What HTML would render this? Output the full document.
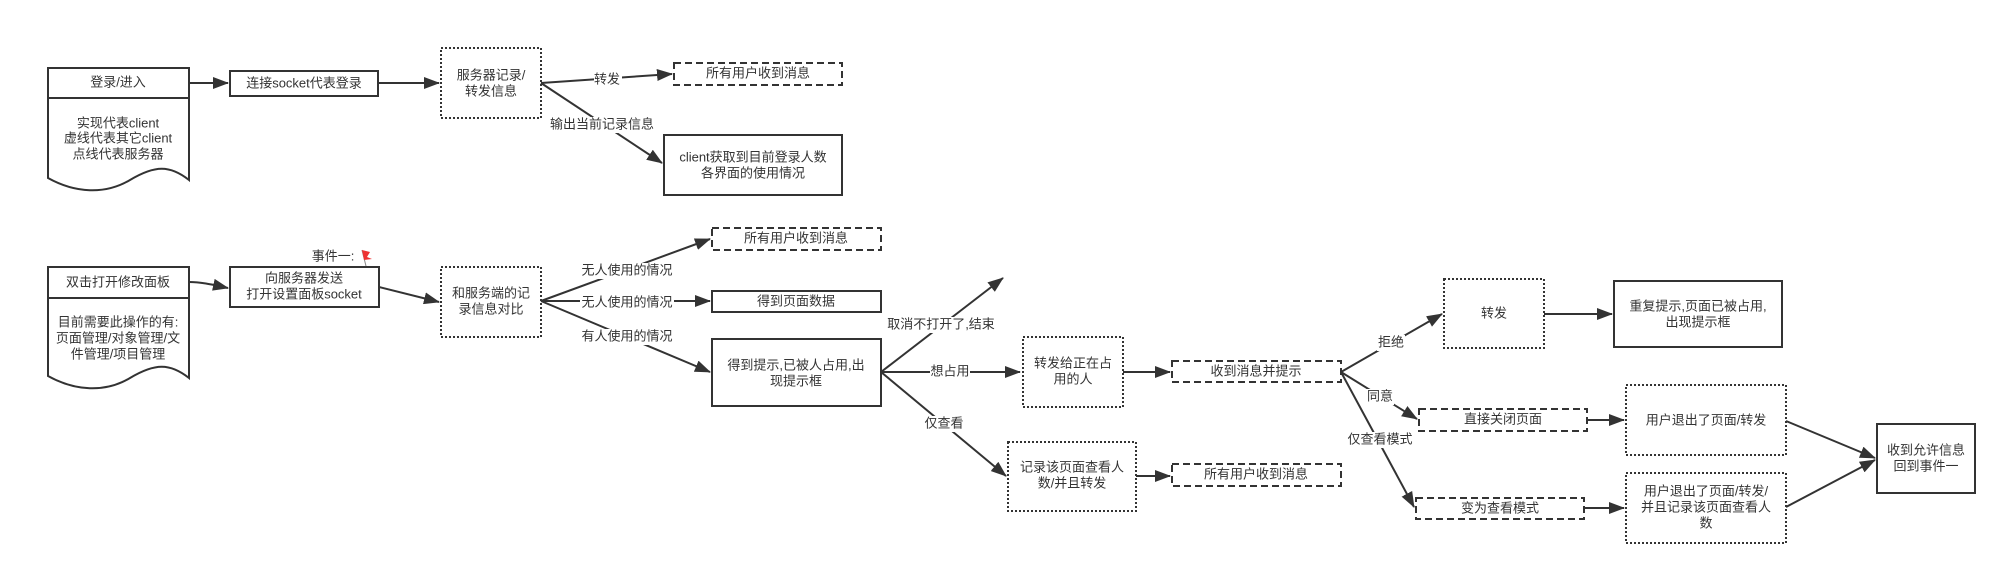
<!DOCTYPE html>
<html><head><meta charset="utf-8"><style>
html,body{margin:0;padding:0;background:#fff;}
svg{display:block;}
text{font-family:"Liberation Sans","Noto Sans CJK SC",sans-serif;font-size:13px;fill:#333;text-anchor:middle;dominant-baseline:middle;}
.s{fill:#fff;stroke:#333;stroke-width:2;}
.d{fill:#fff;stroke:#333;stroke-width:2;stroke-dasharray:7,4;}
.o{fill:#fff;stroke:#333;stroke-width:2;stroke-dasharray:2,2;}
.l{stroke:#333;stroke-width:2;fill:none;}
.lb{fill:#fff;}
</style></head><body>
<svg width="2009" height="575" viewBox="0 0 2009 575" xmlns="http://www.w3.org/2000/svg">
<defs><marker id="a" markerWidth="10" markerHeight="10" refX="9" refY="5" orient="auto" markerUnits="userSpaceOnUse"><path d="M0,0 L10,5 L0,10 Z" fill="#333"/></marker>
<marker id="b" markerWidth="16" markerHeight="12" refX="15" refY="6" orient="auto" markerUnits="userSpaceOnUse"><path d="M0,0 L16,6 L0,12 Z" fill="#333"/></marker></defs>

<!-- doc 1 -->
<path class="s" d="M48,68 H189 V180 C170,165 155,165 130,180 C105,195 75,193 48,178 Z"/>
<line class="l" x1="48" y1="98" x2="189" y2="98"/>
<text x="118" y="83">登录/进入</text>
<text x="118" y="124">实现代表client</text>
<text x="118" y="139">虚线代表其它client</text>
<text x="118" y="155">点线代表服务器</text>

<rect class="s" x="230" y="71" width="148" height="25"/>
<text x="304" y="84">连接socket代表登录</text>
<rect class="o" x="441" y="48" width="100" height="70"/>
<text x="491" y="76">服务器记录/</text><text x="491" y="92">转发信息</text>
<rect class="d" x="674" y="63" width="168" height="22"/>
<text x="758" y="74">所有用户收到消息</text>
<rect class="s" x="664" y="135" width="178" height="60"/>
<text x="753" y="158">client获取到目前登录人数</text><text x="753" y="174">各界面的使用情况</text>

<line class="l" x1="189" y1="83" x2="228" y2="83" marker-end="url(#b)"/>
<line class="l" x1="378" y1="83" x2="439" y2="83" marker-end="url(#b)"/>
<line class="l" x1="541" y1="83" x2="672" y2="74" marker-end="url(#b)"/>
<line class="l" x1="541" y1="83" x2="662" y2="163" marker-end="url(#b)"/>
<rect class="lb" x="594" y="71" width="28" height="16"/><text x="607" y="80">转发</text>
<rect class="lb" x="550" y="117" width="104" height="16"/><text x="602" y="125">输出当前记录信息</text>

<!-- doc 2 -->
<path class="s" d="M48,267 H189 V378 C170,363 155,363 130,378 C105,393 75,391 48,376 Z"/>
<line class="l" x1="48" y1="298" x2="189" y2="298"/>
<text x="118" y="283">双击打开修改面板</text>
<text x="118" y="323">目前需要此操作的有:</text>
<text x="118" y="339">页面管理/对象管理/文</text>
<text x="118" y="355">件管理/项目管理</text>

<rect class="s" x="230" y="267" width="149" height="40"/>
<text x="304" y="279">向服务器发送</text><text x="304" y="295">打开设置面板socket</text>
<text x="333" y="257">事件一:</text>
<line x1="362" y1="250" x2="366" y2="266" stroke="#888" stroke-width="1"/>
<path d="M362,250 L370,252 L367,257 L372,259 L364,260 Z" fill="#e33"/>
<rect class="o" x="441" y="267" width="100" height="70"/>
<text x="491" y="294">和服务端的记</text><text x="491" y="310">录信息对比</text>

<path class="l" d="M189,282 C200,282 210,284 228,288" marker-end="url(#b)"/>
<line class="l" x1="379" y1="287" x2="439" y2="302" marker-end="url(#b)"/>

<rect class="d" x="712" y="228" width="169" height="22"/><text x="796" y="239">所有用户收到消息</text>
<rect class="s" x="712" y="291" width="169" height="21"/><text x="796" y="302">得到页面数据</text>
<rect class="s" x="712" y="339" width="169" height="67"/>
<text x="796" y="366">得到提示,已被人占用,出</text><text x="796" y="382">现提示框</text>

<line class="l" x1="541" y1="301" x2="710" y2="239" marker-end="url(#b)"/>
<line class="l" x1="541" y1="301" x2="710" y2="301" marker-end="url(#b)"/>
<line class="l" x1="541" y1="301" x2="710" y2="372" marker-end="url(#b)"/>
<rect class="lb" x="580" y="263" width="94" height="16"/><text x="627" y="271">无人使用的情况</text>
<rect class="lb" x="580" y="295" width="94" height="16"/><text x="627" y="303">无人使用的情况</text>
<rect class="lb" x="580" y="329" width="94" height="16"/><text x="627" y="337">有人使用的情况</text>

<!-- middle -->
<line class="l" x1="881" y1="372" x2="1003" y2="278" marker-end="url(#b)"/>
<line class="l" x1="881" y1="372" x2="1020" y2="372" marker-end="url(#b)"/>
<line class="l" x1="881" y1="372" x2="1006" y2="476" marker-end="url(#b)"/>
<rect class="lb" x="886" y="317" width="110" height="16"/><text x="941" y="325">取消不打开了,结束</text>
<rect class="lb" x="930" y="364" width="40" height="16"/><text x="950" y="372">想占用</text>
<rect class="lb" x="924" y="416" width="40" height="16"/><text x="944" y="424">仅查看</text>

<rect class="o" x="1023" y="337" width="100" height="70"/>
<text x="1073" y="364">转发给正在占</text><text x="1073" y="380">用的人</text>
<rect class="d" x="1172" y="361" width="169" height="21"/><text x="1256" y="372">收到消息并提示</text>
<rect class="o" x="1008" y="442" width="128" height="69"/>
<text x="1072" y="468">记录该页面查看人</text><text x="1072" y="484">数/并且转发</text>
<rect class="d" x="1172" y="464" width="169" height="22"/><text x="1256" y="475">所有用户收到消息</text>
<line class="l" x1="1123" y1="372" x2="1170" y2="372" marker-end="url(#b)"/>
<line class="l" x1="1136" y1="476" x2="1170" y2="476" marker-end="url(#b)"/>

<!-- right -->
<line class="l" x1="1341" y1="372" x2="1442" y2="314" marker-end="url(#b)"/>
<line class="l" x1="1341" y1="372" x2="1417" y2="419" marker-end="url(#b)"/>
<line class="l" x1="1341" y1="372" x2="1414" y2="507" marker-end="url(#b)"/>
<rect class="lb" x="1377" y="335" width="28" height="16"/><text x="1391" y="343">拒绝</text>
<rect class="lb" x="1366" y="389" width="28" height="16"/><text x="1380" y="397">同意</text>
<rect class="lb" x="1348" y="432" width="64" height="16"/><text x="1380" y="440">仅查看模式</text>

<rect class="o" x="1444" y="279" width="100" height="69"/><text x="1494" y="314">转发</text>
<rect class="s" x="1614" y="281" width="168" height="66"/>
<text x="1698" y="307">重复提示,页面已被占用,</text><text x="1698" y="323">出现提示框</text>
<line class="l" x1="1544" y1="314" x2="1612" y2="314" marker-end="url(#b)"/>

<rect class="d" x="1419" y="409" width="168" height="22"/><text x="1503" y="420">直接关闭页面</text>
<rect class="o" x="1626" y="385" width="160" height="70"/><text x="1706" y="421">用户退出了页面/转发</text>
<line class="l" x1="1587" y1="420" x2="1624" y2="420" marker-end="url(#b)"/>

<rect class="d" x="1416" y="498" width="168" height="21"/><text x="1500" y="509">变为查看模式</text>
<rect class="o" x="1626" y="473" width="160" height="70"/>
<text x="1706" y="492">用户退出了页面/转发/</text><text x="1706" y="508">并且记录该页面查看人</text><text x="1706" y="524">数</text>
<line class="l" x1="1584" y1="508" x2="1624" y2="508" marker-end="url(#b)"/>

<rect class="s" x="1877" y="424" width="98" height="69"/>
<text x="1926" y="451">收到允许信息</text><text x="1926" y="467">回到事件一</text>
<line class="l" x1="1786" y1="421" x2="1875" y2="458" marker-end="url(#b)"/>
<line class="l" x1="1786" y1="507" x2="1875" y2="460" marker-end="url(#b)"/>
</svg>
</body></html>
